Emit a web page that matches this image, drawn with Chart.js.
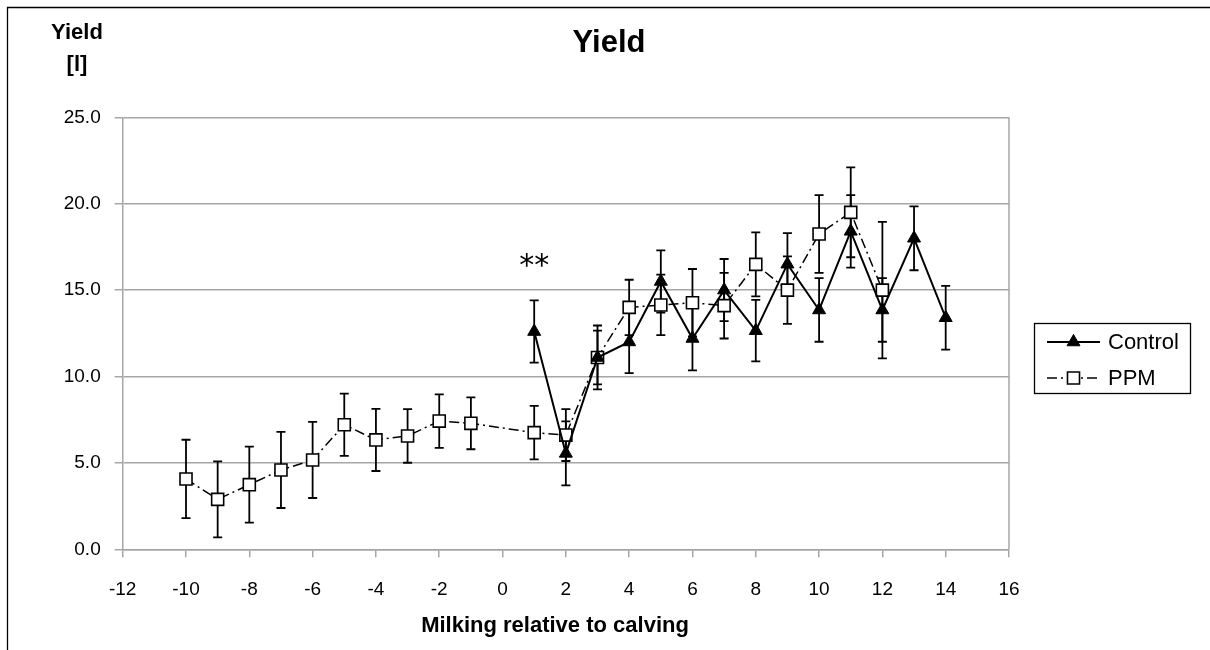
<!DOCTYPE html>
<html>
<head>
<meta charset="utf-8">
<script src="https://cdn.jsdelivr.net/npm/chart.js@4.4.0/dist/chart.umd.min.js"></script>
<style>
  body { margin: 0; background: #fff; }
  #wrap { width: 1210px; height: 650px; }
</style>
</head>
<body>
<div id="wrap"><canvas id="chart" width="1210" height="650"></canvas></div>
<script>
// milking number relative to calving
const controlX = [1, 2, 3, 4, 5, 6, 7, 8, 9, 10, 11, 12, 13, 14]
const controlY = [12.6, 5.55, 11.1, 12.0, 15.5, 12.2, 15.0, 12.65, 16.5, 13.85, 18.4, 13.85, 18.0, 13.4]
const controlErr = [1.8, 1.85, 1.55, 1.8, 1.8, 1.85, 1.8, 1.78, 1.8, 1.84, 2.1, 1.84, 1.85, 1.85]

const ppmX = [-10, -9, -8, -7, -6, -5, -4, -3, -2, -1, 1, 2, 3, 4, 5, 6, 7, 8, 9, 10, 11, 12]
const ppmY = [4.07, 2.89, 3.74, 4.59, 5.17, 7.21, 6.33, 6.56, 7.42, 7.29, 6.75, 6.61, 11.1, 14.0, 14.14, 14.27, 14.1, 16.49, 15.0, 18.25, 19.5, 15.0]
const ppmErr = [2.27, 2.2, 2.2, 2.2, 2.2, 1.8, 1.8, 1.55, 1.55, 1.5, 1.55, 1.5, 1.85, 1.6, 1.75, 1.95, 1.9, 1.85, 1.95, 2.25, 2.6, 3.95]

// significance marks
const starX = [1]
const starY = [16.3]
const starText = ['**']

const seriesNames = ['Control', 'PPM']
const errors = [controlErr, ppmErr]

const toPoints = (xs, ys) => xs.map((x, i) => ({x: x, y: ys[i]}))

const gridGray = '#a6a6a6'

const errorBars = {
  id: 'errorBars',
  beforeDatasetsDraw(chart) {
    const ctx = chart.ctx
    const y = chart.scales.y
    const area = chart.chartArea
    ctx.save()
    // plot area right edge
    ctx.strokeStyle = gridGray
    ctx.lineWidth = 1.5
    ctx.beginPath()
    ctx.moveTo(area.right, area.top)
    ctx.lineTo(area.right, area.bottom)
    ctx.stroke()

    ctx.strokeStyle = '#000'
    ctx.lineWidth = 1.8
    chart.data.datasets.forEach((ds, i) => {
      const meta = chart.getDatasetMeta(i)
      meta.data.forEach((pt, j) => {
        const v = ds.data[j].y
        const e = errors[i][j]
        const top = y.getPixelForValue(v + e)
        const bot = y.getPixelForValue(v - e)
        ctx.beginPath()
        ctx.moveTo(pt.x, top)
        ctx.lineTo(pt.x, bot)
        ctx.moveTo(pt.x - 4.5, top)
        ctx.lineTo(pt.x + 4.5, top)
        ctx.moveTo(pt.x - 4.5, bot)
        ctx.lineTo(pt.x + 4.5, bot)
        ctx.stroke()
      })
    })
    ctx.restore()
  },
}

const decorations = {
  id: 'decorations',
  afterDraw(chart) {
    const ctx = chart.ctx
    const xs = chart.scales.x
    const ys = chart.scales.y
    ctx.save()

    // outer frame (left and top edges show)
    ctx.strokeStyle = '#000'
    ctx.lineWidth = 1.3
    ctx.beginPath()
    ctx.moveTo(7.5, 660)
    ctx.lineTo(7.5, 7.5)
    ctx.lineTo(1220, 7.5)
    ctx.stroke()

    ctx.fillStyle = '#000'
    ctx.textAlign = 'center'
    ctx.textBaseline = 'middle'

    ctx.font = 'bold 31px "Liberation Sans", Arial, sans-serif'
    ctx.fillText('Yield', 609, 43)

    ctx.font = 'bold 22px "Liberation Sans", Arial, sans-serif'
    ctx.fillText('Yield', 77, 33)
    ctx.fillText('[l]', 77, 65)
    ctx.fillText('Milking relative to calving', 555, 626)

    ctx.font = '30px "DejaVu Sans", sans-serif'
    starX.forEach((sx, i) => {
      ctx.fillText(starText[i], xs.getPixelForValue(sx), ys.getPixelForValue(starY[i]))
    })

    // legend
    ctx.strokeStyle = '#000'
    ctx.lineWidth = 1.3
    ctx.strokeRect(1034.5, 323.5, 156, 70)
    const rows = [342, 378]
    ctx.textAlign = 'left'
    ctx.font = '22px "Liberation Sans", Arial, sans-serif'
    chart.data.datasets.forEach((ds, i) => {
      const ry = rows[i]
      ctx.save()
      ctx.strokeStyle = ds.borderColor
      ctx.lineWidth = ds.borderWidth
      ctx.setLineDash(ds.borderDash || [])
      ctx.beginPath()
      ctx.moveTo(1047, ry)
      ctx.lineTo(1100, ry)
      ctx.stroke()
      ctx.restore()
      ctx.save()
      ctx.fillStyle = ds.pointBackgroundColor
      ctx.strokeStyle = ds.pointBorderColor
      ctx.lineWidth = ds.pointBorderWidth
      Chart.helpers.drawPoint(ctx, {
        pointStyle: ds.pointStyle,
        radius: ds.pointRadius,
        rotation: 0,
        borderWidth: ds.pointBorderWidth,
      }, 1073.5, ry)
      ctx.restore()
      ctx.fillStyle = '#000'
      ctx.fillText(ds.label, 1108, ry + 1)
    })
    ctx.restore()
  },
}

const tickFont = {family: '"Liberation Sans", Arial, sans-serif', size: 19}

new Chart(document.getElementById('chart'), {
  type: 'line',
  data: {
    datasets: [
      {
        label: seriesNames[0],
        data: toPoints(controlX, controlY),
        borderColor: '#000',
        borderWidth: 2,
        pointStyle: 'triangle',
        pointRadius: 7.5,
        pointBackgroundColor: '#000',
        pointBorderColor: '#000',
        pointBorderWidth: 1,
        tension: 0,
        fill: false,
      },
      {
        label: seriesNames[1],
        data: toPoints(ppmX, ppmY),
        borderColor: '#000',
        borderWidth: 1.5,
        borderDash: [10, 4, 2, 4],
        pointStyle: 'rect',
        pointRadius: 8.5,
        pointBackgroundColor: '#fff',
        pointBorderColor: '#000',
        pointBorderWidth: 1.6,
        tension: 0,
        fill: false,
      },
    ],
  },
  options: {
    responsive: false,
    animation: false,
    events: [],
    layout: {
      padding: {left: 8, right: 201, top: 117.3, bottom: 0},
    },
    plugins: {
      legend: {display: false},
      title: {display: false},
      tooltip: {enabled: false},
    },
    scales: {
      x: {
        type: 'linear',
        min: -12,
        max: 16,
        ticks: {stepSize: 2, color: '#000', font: tickFont, padding: 21},
        grid: {drawOnChartArea: false, drawTicks: true, tickLength: 8, color: gridGray, lineWidth: 1.5},
        border: {color: gridGray, width: 1.5},
        afterFit: (s) => { s.height = 100.7 },
      },
      y: {
        min: 0,
        max: 25,
        ticks: {
          stepSize: 5,
          color: '#000',
          font: tickFont,
          padding: 14,
          callback: (v) => v.toFixed(1),
        },
        grid: {color: gridGray, lineWidth: 1.5, tickLength: 8},
        border: {color: gridGray, width: 1.5},
        afterFit: (s) => { s.width = 114.7 },
      },
    },
  },
  plugins: [errorBars, decorations],
})
</script>
</body>
</html>
